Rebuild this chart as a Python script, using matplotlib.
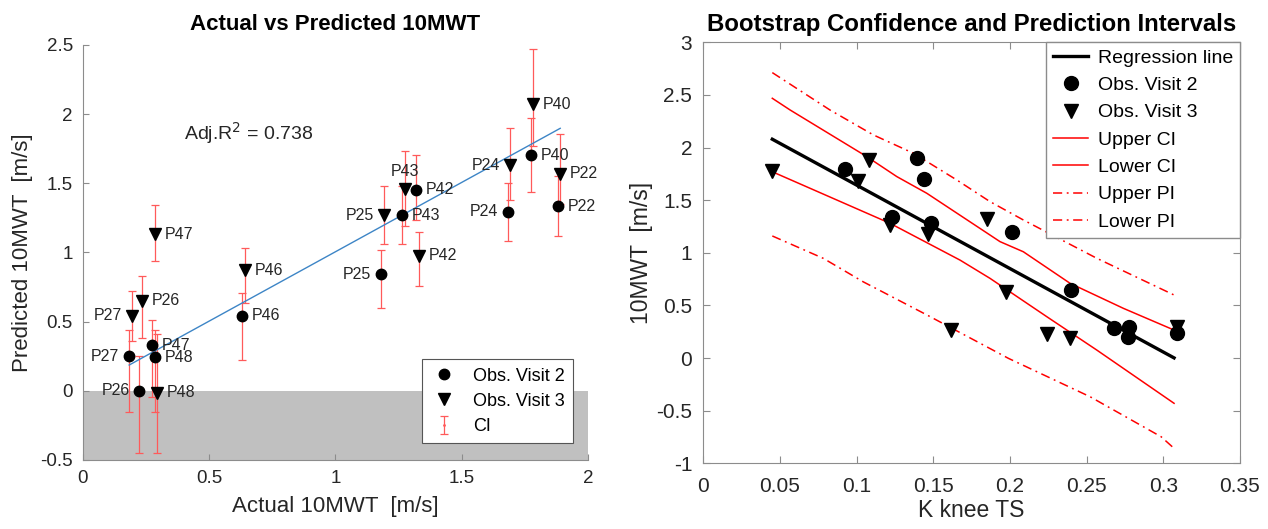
import numpy as np
import matplotlib
matplotlib.use("Agg")
import matplotlib.pyplot as plt

plt.rcParams["font.family"] = ["Liberation Sans", "DejaVu Sans"]

# =====================================================================
# data - left panel (actual vs predicted)
# =====================================================================
v2_names = ["P40", "P22", "P24", "P42", "P43", "P25", "P46", "P47", "P27", "P48", "P26"]
v2_actual = [1.775, 1.882, 1.682, 1.320, 1.265, 1.181, 0.632, 0.273, 0.184, 0.286, 0.224]
v2_pred = [1.702, 1.334, 1.295, 1.455, 1.271, 0.843, 0.541, 0.330, 0.250, 0.243, 0.0]
v2_ci_lo = [1.435, 1.116, 1.080, 1.237, 1.061, 0.601, 0.226, -0.045, -0.154, -0.154, -0.446]
v2_ci_hi = [1.975, 1.550, 1.504, 1.707, 1.480, 1.020, 0.705, 0.512, 0.439, 0.439, 0.250]

v3_names = ["P40", "P22", "P24", "P43", "P25", "P42", "P47", "P46", "P26", "P27", "P48"]
v3_actual = [1.784, 1.890, 1.692, 1.274, 1.191, 1.333, 0.286, 0.644, 0.233, 0.194, 0.295]
v3_pred = [2.072, 1.569, 1.629, 1.460, 1.271, 0.976, 1.133, 0.872, 0.650, 0.541, -0.015]
v3_ci_lo = [1.769, 1.351, 1.382, 1.190, 1.061, 0.758, 0.940, 0.633, 0.379, 0.360, -0.446]
v3_ci_hi = [2.471, 1.854, 1.903, 1.733, 1.479, 1.150, 1.344, 1.036, 0.831, 0.722, 0.410]

fit_slope = 1.003
fit_intercept = 0.002
adj_r2 = 0.738

# label side for each point (r = right, l = left, t = top)
v2_side = ["r", "r", "l", "r", "r", "l", "r", "r", "l", "r", "l"]
v3_side = ["r", "r", "l", "t", "l", "r", "r", "r", "r", "l", "r"]

# =====================================================================
# data - right panel (bootstrap intervals)
# =====================================================================
ts_v2 = [0.0926, 0.1233, 0.1392, 0.1442, 0.1483, 0.2016, 0.2399, 0.2679, 0.2779, 0.2772, 0.3088]
mwt_v2 = [1.793, 1.337, 1.898, 1.699, 1.280, 1.195, 0.646, 0.288, 0.298, 0.203, 0.235]
ts_v3 = [0.0446, 0.1011, 0.1083, 0.1218, 0.1464, 0.1616, 0.1853, 0.1973, 0.2244, 0.2392, 0.3088]
mwt_v3 = [1.778, 1.686, 1.882, 1.264, 1.179, 0.266, 1.318, 0.630, 0.228, 0.187, 0.298]

reg_slope = -7.93
reg_intercept = 2.436
reg_x = [0.045, 0.307]

ci_up_x = [0.045, 0.0566, 0.1066, 0.1262, 0.1457, 0.1935, 0.2087, 0.2392, 0.274, 0.307]
ci_up_y = [2.468, 2.357, 1.914, 1.724, 1.566, 1.106, 1.010, 0.710, 0.472, 0.266]
ci_lo_x = [0.045, 0.1218, 0.1675, 0.187, 0.224, 0.2566, 0.307]
ci_lo_y = [1.770, 1.280, 0.930, 0.757, 0.393, 0.076, -0.430]
pi_up_x = [0.045, 0.0826, 0.1109, 0.137, 0.1653, 0.187, 0.2087, 0.2566, 0.307]
pi_up_y = [2.712, 2.357, 2.120, 1.946, 1.692, 1.486, 1.312, 0.948, 0.599]
pi_lo_x = [0.045, 0.0783, 0.1042, 0.1459, 0.199, 0.2523, 0.2986, 0.307]
pi_lo_y = [1.160, 0.947, 0.725, 0.409, -0.003, -0.368, -0.748, -0.858]

# =====================================================================
# figure
# =====================================================================
W, H = 1268, 529
fig = plt.figure(figsize=(W / 100, H / 100), dpi=100)

AXC = "#8c8c8c"
TXT = "#262626"
ERR = "#ff5a5a"

# ---------------- left panel ----------------
ax1 = fig.add_axes([82.7 / W, 1 - 460 / H, 505.3 / W, 415 / H])
ax1.axhspan(-0.5, 0, color="#c0c0c0", zorder=0, lw=0)

for xs, ys, lo, hi in [(v2_actual, v2_pred, v2_ci_lo, v2_ci_hi),
                       (v3_actual, v3_pred, v3_ci_lo, v3_ci_hi)]:
    ys = np.array(ys)
    yerr = [ys - np.array(lo), np.array(hi) - ys]
    ci_h = ax1.errorbar(xs, ys, yerr=yerr, fmt=".", color=ERR, ms=2,
                        ecolor=ERR, elinewidth=0.9, capsize=3, capthick=0.9,
                        zorder=2, label="CI")

xfit = np.array([min(v2_actual + v3_actual), max(v2_actual + v3_actual)])
ax1.plot(xfit, fit_slope * xfit + fit_intercept, color="#3d85c6", lw=1, zorder=2)

h_v2, = ax1.plot(v2_actual, v2_pred, "o", color="black", ms=7.5, ls="none",
                 zorder=3, label="Obs. Visit 2")
h_v3, = ax1.plot(v3_actual, v3_pred, "v", color="black", ms=8.5, ls="none",
                 zorder=3, label="Obs. Visit 3")

offsets = {"r": ((7, 0), "left", "center"),
           "l": ((-7, 0), "right", "center"),
           "t": ((0, 7), "center", "bottom")}
for names, xs, ys, sides in [(v2_names, v2_actual, v2_pred, v2_side),
                             (v3_names, v3_actual, v3_pred, v3_side)]:
    for n, x, y, s in zip(names, xs, ys, sides):
        off, ha, va = offsets[s]
        ax1.annotate(n, (x, y), xytext=off, textcoords="offset points",
                     ha=ha, va=va, fontsize=11.5, color=TXT, zorder=4)

ax1.text(0.4, 1.86, f"Adj.R$^2$ = {adj_r2:.3f}", fontsize=14, color=TXT,
         va="center")

ax1.set_xlim(0, 2)
ax1.set_ylim(-0.5, 2.5)
ax1.set_xticks([0, 0.5, 1, 1.5, 2])
ax1.set_xticklabels(["0", "0.5", "1", "1.5", "2"])
ax1.set_yticks([-0.5, 0, 0.5, 1, 1.5, 2, 2.5])
ax1.set_yticklabels(["-0.5", "0", "0.5", "1", "1.5", "2", "2.5"])
for side in ["top", "right"]:
    ax1.spines[side].set_visible(False)
for side in ["left", "bottom"]:
    ax1.spines[side].set_color(AXC)
ax1.tick_params(direction="in", length=4, color=AXC, labelcolor=TXT,
                labelsize=13.5, pad=7)
ax1.set_xlabel("Actual 10MWT  [m/s]", fontsize=16, color=TXT, labelpad=7)
ax1.set_ylabel("Predicted 10MWT  [m/s]", fontsize=16, color=TXT, labelpad=5)
ax1.set_title("Actual vs Predicted 10MWT", fontsize=16, fontweight="bold",
              color="black", pad=11)

leg1 = ax1.legend(handles=[h_v2, h_v3, ci_h], loc="lower right",
                  bbox_to_anchor=(0.970, 0.041), fontsize=13, frameon=True,
                  fancybox=False, edgecolor="#555555", framealpha=1,
                  handlelength=1.6, labelspacing=0.45, borderpad=0.45,
                  borderaxespad=0)
leg1.get_frame().set_linewidth(0.8)

# ---------------- right panel ----------------
ax2 = fig.add_axes([703.3 / W, 1 - 463.3 / H, 536.7 / W, 421 / H])

rx = np.array(reg_x)
h_reg, = ax2.plot(rx, reg_slope * rx + reg_intercept, color="black", lw=2.4,
                  label="Regression line", zorder=3)
h_cu, = ax2.plot(ci_up_x, ci_up_y, color="red", lw=1.1, label="Upper CI")
h_cl, = ax2.plot(ci_lo_x, ci_lo_y, color="red", lw=1.1, label="Lower CI")
dashdot = (0, (6, 3, 1.2, 3))
h_pu, = ax2.plot(pi_up_x, pi_up_y, color="red", lw=1.1, ls=dashdot, label="Upper PI")
h_pl, = ax2.plot(pi_lo_x, pi_lo_y, color="red", lw=1.1, ls=dashdot, label="Lower PI")
h_o2, = ax2.plot(ts_v2, mwt_v2, "o", color="black", ms=10, ls="none",
                 label="Obs. Visit 2", zorder=4)
h_o3, = ax2.plot(ts_v3, mwt_v3, "v", color="black", ms=10.5, ls="none",
                 label="Obs. Visit 3", zorder=4)

ax2.set_xlim(0, 0.35)
ax2.set_ylim(-1, 3)
ax2.set_xticks([0, 0.05, 0.1, 0.15, 0.2, 0.25, 0.3, 0.35])
ax2.set_xticklabels(["0", "0.05", "0.1", "0.15", "0.2", "0.25", "0.3", "0.35"])
ax2.set_yticks([-1, -0.5, 0, 0.5, 1, 1.5, 2, 2.5, 3])
ax2.set_yticklabels(["-1", "-0.5", "0", "0.5", "1", "1.5", "2", "2.5", "3"])
for side in ax2.spines:
    ax2.spines[side].set_color(AXC)
ax2.tick_params(direction="in", length=5, color=AXC, labelcolor=TXT,
                labelsize=15, top=True, right=True, pad=8)
ax2.tick_params(axis="x", pad=10)
ax2.set_xlabel("K knee TS", fontsize=16.5, color=TXT, labelpad=2)
ax2.set_ylabel("10MWT  [m/s]", fontsize=16.5, color=TXT, labelpad=2)
ax2.set_title("Bootstrap Confidence and Prediction Intervals", fontsize=17.3,
              fontweight="bold", color="black", pad=8)

leg2 = ax2.legend(handles=[h_reg, h_o2, h_o3, h_cu, h_cl, h_pu, h_pl],
                  loc="upper right", bbox_to_anchor=(1.0, 1.0), fontsize=14,
                  frameon=True, fancybox=False, edgecolor=AXC, framealpha=1,
                  handlelength=1.8, labelspacing=0.5, borderpad=0.35,
                  borderaxespad=0, handletextpad=0.5)
leg2.get_frame().set_linewidth(1.0)

fig.savefig("out.png", dpi=100)
